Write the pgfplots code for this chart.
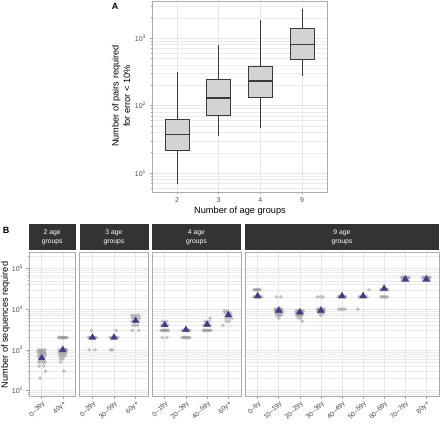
\documentclass[border=0pt]{standalone}
\usepackage{fontspec}
\setmainfont{Liberation Sans}
\usepackage{pgfplots}
\pgfplotsset{compat=1.18}
\definecolor{tickgray}{HTML}{4D4D4D}
\definecolor{gridc}{HTML}{E6E6E6}
\definecolor{stripc}{HTML}{333333}
\definecolor{tri}{HTML}{45388A}
\definecolor{boxfill}{HTML}{D3D3D3}
\definecolor{boxline}{HTML}{3A3A3A}
\definecolor{ptc}{HTML}{8C8C8C}
\pgfplotsset{
  ggbase/.style={scale only axis,
    axis line style={draw=gray!65, line width=0.6pt},
    grid=both,
    major grid style={draw=gridc, line width=0.5pt},
    minor grid style={draw=gridc!80, line width=0.3pt},
    tick style={draw=gray!70, line width=0.5pt},
    major tick length=2.5pt, minor tick length=1.2pt,
    tick align=outside, tick pos=left,
    ticklabel style={text=tickgray, font=\fontsize{7}{8}\selectfont},
  },
  facet/.style={ggbase, anchor=north west, height=144pt,
    ymin=71, ymax=247000,
    ytick={100,1000,10000,100000},
    minor ytick={80,90,200,300,400,500,600,700,800,900,2000,3000,4000,5000,6000,7000,8000,9000,20000,30000,40000,50000,60000,70000,80000,90000,200000},
    xticklabel style={rotate=45, anchor=north east, inner sep=1pt, font=\fontsize{6.8}{8}\selectfont},
  },
  inner/.style={yticklabels={}, y tick style={draw=none}},
  boxs/.style={draw=boxline, fill=boxfill, line width=0.7pt},
  whisk/.style={draw=boxline, line width=0.7pt},
  med/.style={draw=boxline, line width=1.4pt},
}
\newcommand{\striptext}[2]{\node[text=white, align=center, font=\fontsize{6.8}{9.5}\selectfont] at (#1pt,-237.3pt) {#2 age\\groups};}
\begin{document}
\begin{tikzpicture}
\useasboundingbox (0pt,0pt) rectangle (440pt,-428pt);

% ---------------- Panel A ----------------
\begin{axis}[ymode=log, ggbase, at={(152pt,-1pt)}, anchor=north west, width=175pt, height=191pt,
  ymin=5.24, ymax=3530, xmin=0.4, xmax=4.6,
  xtick={1,2,3,4}, xticklabels={2,3,4,9},
  ytick={10,100,1000}, yticklabels={10\textsuperscript{1},10\textsuperscript{2},10\textsuperscript{3}},
  minor ytick={6,7,8,9,20,30,40,50,60,70,80,90,200,300,400,500,600,700,800,900,2000,3000},
]
% group 2
\addplot[whisk] coordinates {(1,7) (1,22)};
\addplot[whisk] coordinates {(1,63) (1,310)};
\addplot[boxs] coordinates {(0.715,22) (1.285,22) (1.285,63) (0.715,63)} --cycle;
\addplot[med] coordinates {(0.715,37) (1.285,37)};
% group 3
\addplot[whisk] coordinates {(2,35) (2,72)};
\addplot[whisk] coordinates {(2,245) (2,800)};
\addplot[boxs] coordinates {(1.715,72) (2.285,72) (2.285,245) (1.715,245)} --cycle;
\addplot[med] coordinates {(1.715,130) (2.285,130)};
% group 4
\addplot[whisk] coordinates {(3,47) (3,130)};
\addplot[whisk] coordinates {(3,380) (3,1850)};
\addplot[boxs] coordinates {(2.715,130) (3.285,130) (3.285,380) (2.715,380)} --cycle;
\addplot[med] coordinates {(2.715,230) (3.285,230)};
% group 9
\addplot[whisk] coordinates {(4,270) (4,490)};
\addplot[whisk] coordinates {(4,1400) (4,2700)};
\addplot[boxs] coordinates {(3.715,490) (4.285,490) (4.285,1400) (3.715,1400)} --cycle;
\addplot[med] coordinates {(3.715,800) (4.285,800)};
\end{axis}
\node[font=\bfseries\fontsize{9}{10}\selectfont] at (115pt,-6pt) {A};
\node[rotate=90, align=center, font=\fontsize{9.2}{11.5}\selectfont] at (121pt,-96pt) {Number of pairs required\\for error {<} 10\%};
\node[font=\fontsize{9.2}{11}\selectfont] at (240pt,-211pt) {Number of age groups};

% ---------------- Panel B ----------------
\node[font=\bfseries\fontsize{9}{10}\selectfont] at (6pt,-230pt) {B};
\node[rotate=90, font=\fontsize{9.2}{11}\selectfont] at (5.5pt,-325pt) {Number of sequences required};

% strips
\fill[stripc] (29pt,-224.5pt) rectangle (75.5pt,-250pt);
\fill[stripc] (79.5pt,-224.5pt) rectangle (148.5pt,-250pt);
\fill[stripc] (152pt,-224.5pt) rectangle (241pt,-250pt);
\fill[stripc] (245pt,-224.5pt) rectangle (439pt,-250pt);
\striptext{52.25}{2}
\striptext{114}{3}
\striptext{196.5}{4}
\striptext{342}{9}

% facet 1
\begin{axis}[ymode=log, facet, at={(29pt,-252.5pt)}, width=46.5pt,
  xmin=-0.6, xmax=1.6, xtick={0,1}, xticklabels={0–39y,40y+},
  yticklabels={10\textsuperscript{2},10\textsuperscript{3},10\textsuperscript{4},10\textsuperscript{5}}]
\addplot[only marks, mark=*, mark size=1.7pt, color=ptc, opacity=0.4] table {
x y
-0.15 1000
-0.05 1000
0.05 1000
0.15 1000
-0.18 900
-0.08 900
0.02 900
0.12 900
-0.12 800
0.0 800
0.1 800
0.18 800
-0.16 700
-0.06 700
0.06 700
0.16 700
-0.1 600
0.0 600
0.1 600
-0.14 500
-0.04 500
0.08 500
0.16 500
-0.12 400
0.1 400
0.18 300
-0.08 200
0.8 2000
0.85 2000
0.9 2000
0.95 2000
1.0 2000
1.05 2000
1.1 2000
1.15 2000
1.2 2000
0.82 1000
0.92 1000
1.02 1000
1.12 1000
1.18 1000
0.86 900
0.96 900
1.06 900
1.16 900
0.84 800
0.94 800
1.04 800
1.14 800
0.88 700
0.98 700
1.1 700
0.9 600
1.0 600
0.9 500
1.05 300
};
\addplot[only marks, mark=triangle*, mark size=3.8pt, color=tri] table {
x y
0 625
1 1000
};
\end{axis}

% facet 2
\begin{axis}[ymode=log, facet, inner, at={(79.5pt,-252.5pt)}, width=69pt,
  xmin=-0.6, xmax=2.6, xtick={0,1,2}, xticklabels={0–29y,30–59y,60y+}]
\addplot[only marks, mark=*, mark size=1.7pt, color=ptc, opacity=0.4] table {
x y
-0.18 2000
-0.12 2000
-0.06 2000
0.0 2000
0.06 2000
0.12 2000
0.18 2000
-0.15 1000
0.12 1000
-0.05 3000
0.82 2000
0.88 2000
0.94 2000
1.0 2000
1.06 2000
1.12 2000
1.18 2000
0.85 1000
0.92 1000
1.1 3000
1.82 7000
1.92 7000
2.04 7000
2.15 7000
1.86 6000
1.96 6000
2.08 6000
2.18 6000
1.84 5000
1.94 5000
2.04 5000
2.14 5000
1.88 4000
1.98 4000
2.1 4000
1.85 3000
2.15 3000
};
\addplot[only marks, mark=triangle*, mark size=3.8pt, color=tri] table {
x y
0 2000
1 2000
2 5150
};
\end{axis}

% facet 3
\begin{axis}[ymode=log, facet, inner, at={(152pt,-252.5pt)}, width=89pt,
  xmin=-0.6, xmax=3.6, xtick={0,1,2,3}, xticklabels={0–19y,20–39y,40–59y,60y+}]
\addplot[only marks, mark=*, mark size=1.7pt, color=ptc, opacity=0.4] table {
x y
-0.18 3000
-0.12 3000
-0.06 3000
0.0 3000
0.06 3000
0.12 3000
0.18 3000
-0.15 4000
-0.05 4000
0.05 4000
0.15 4000
-0.1 5000
0.1 5000
-0.12 2000
0.1 2000
0.82 3000
0.88 3000
0.94 3000
1.0 3000
1.06 3000
1.12 3000
1.18 3000
0.82 2000
0.88 2000
0.94 2000
1.0 2000
1.06 2000
1.12 2000
1.18 2000
1.82 3000
1.88 3000
1.94 3000
2.0 3000
2.06 3000
2.12 3000
2.18 3000
1.85 4000
1.95 4000
2.05 4000
2.15 4000
1.9 5000
2.1 5000
2.15 6000
2.82 9000
2.95 9000
3.1 8000
2.85 8000
2.98 7000
3.12 7000
2.88 6000
3.02 6000
3.16 6000
2.9 5000
3.05 5000
2.75 4000
};
\addplot[only marks, mark=triangle*, mark size=3.8pt, color=tri] table {
x y
0 4100
1 3100
2 4200
3 7200
};
\end{axis}

% facet 4
\begin{axis}[ymode=log, facet, inner, at={(245pt,-252.5pt)}, width=194pt,
  xmin=-0.6, xmax=8.6, xtick={0,1,2,3,4,5,6,7,8},
  xticklabels={0–9y,10–19y,20–29y,30–39y,40–49y,50–59y,60–69y,70–79y,80y+}]
\addplot[only marks, mark=*, mark size=1.7pt, color=ptc, opacity=0.4] table {
x y
-0.18 30000
-0.12 30000
-0.06 30000
0.0 30000
0.06 30000
0.12 30000
-0.18 20000
-0.12 20000
-0.06 20000
0.0 20000
0.06 20000
0.12 20000
0.18 20000
0.9 20000
1.1 20000
0.82 10000
0.9 10000
0.98 10000
1.06 10000
1.14 10000
0.84 9000
0.92 9000
1.0 9000
1.08 9000
1.16 9000
0.86 8000
0.96 8000
1.06 8000
1.16 8000
0.9 7000
1.0 7000
1.1 7000
1.0 6000
1.84 9000
1.92 9000
2.0 9000
2.08 9000
2.16 9000
1.82 8000
1.9 8000
1.98 8000
2.06 8000
2.14 8000
1.86 7000
1.94 7000
2.02 7000
2.1 7000
1.92 6000
2.04 6000
2.12 5000
2.84 20000
2.98 20000
3.1 20000
2.84 10000
2.92 10000
3.0 10000
3.08 10000
3.16 10000
2.86 9000
2.96 9000
3.06 9000
3.16 9000
2.9 8000
3.02 8000
3.12 8000
3.0 7000
3.82 20000
3.88 20000
3.94 20000
4.0 20000
4.06 20000
4.12 20000
4.18 20000
3.85 10000
3.95 10000
4.05 10000
4.15 10000
4.82 20000
4.88 20000
4.94 20000
5.0 20000
5.06 20000
5.12 20000
5.18 20000
4.75 10000
5.28 30000
5.82 30000
5.88 30000
5.94 30000
6.0 30000
6.06 30000
6.12 30000
6.18 30000
5.85 20000
5.92 20000
6.0 20000
6.08 20000
6.15 20000
6.82 60000
6.88 60000
6.94 60000
7.0 60000
7.06 60000
7.12 60000
7.18 60000
6.85 50000
6.95 50000
7.05 50000
7.15 50000
7.82 60000
7.88 60000
7.94 60000
8.0 60000
8.06 60000
8.12 60000
8.18 60000
7.85 50000
7.95 50000
8.05 50000
8.15 50000
};
\addplot[only marks, mark=triangle*, mark size=3.8pt, color=tri] table {
x y
0 21000
1 9300
2 8400
3 9300
4 21000
5 21000
6 32000
7 54000
8 54000
};
\end{axis}
\end{tikzpicture}
\end{document}
